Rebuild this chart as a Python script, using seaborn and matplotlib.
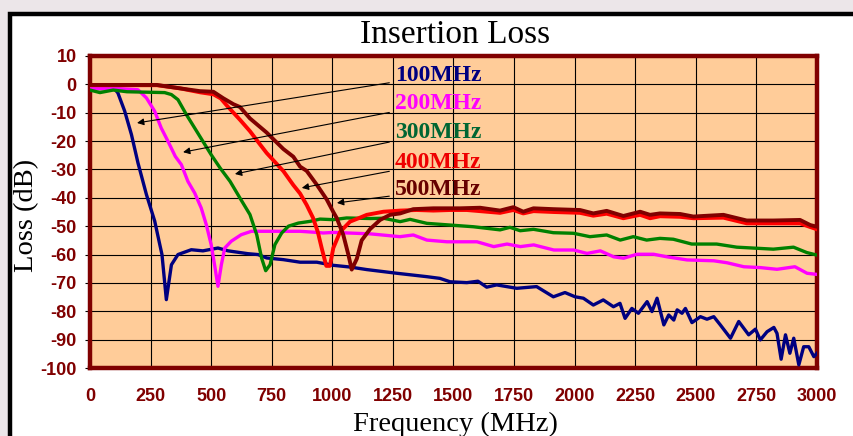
import matplotlib
matplotlib.use("Agg")
import matplotlib.pyplot as plt
import matplotlib.patches as mpatches
import numpy as np
import pandas as pd
import seaborn as sns

plt.rcParams["axes.unicode_minus"] = False

# --- data (frequency MHz, loss dB) ---
f_100 = [0, 50, 100, 115, 143, 171, 198, 233, 267, 288, 297, 315, 336, 363, 418, 466, 528, 570,
         652, 693, 729, 798, 867, 936, 1004, 1073, 1142, 1266, 1390, 1444, 1486, 1555, 1601, 1637,
         1678, 1761, 1843, 1912, 1960, 2002, 2036, 2077, 2118, 2160, 2187, 2208, 2236, 2263, 2299,
         2319, 2340, 2368, 2388, 2409, 2423, 2443, 2457, 2484, 2519, 2546, 2574, 2601, 2643, 2677,
         2718, 2746, 2766, 2794, 2822, 2835, 2852, 2870, 2888, 2904, 2925, 2945, 2966, 2987, 3000]
loss_100 = [-1.5, -1.5, -1.5, -3, -9.4, -17.7, -27.7, -38.9, -48.2, -56.5, -60, -75.9, -63.6, -60,
            -58.3, -58.7, -57.7, -58.7, -59.7, -60, -61.2, -61.8, -62.7, -62.7, -63.8, -64.4, -65.3,
            -66.6, -67.8, -68.4, -69.6, -69.9, -69.4, -71.5, -70.7, -71.9, -71.3, -74.9, -73.4, -74.9,
            -75.4, -77.8, -76, -78.4, -77.2, -82.5, -79, -80.7, -76.6, -80.1, -75.4, -84.8, -81.3,
            -83.1, -79.5, -80.7, -79, -84, -81.9, -82.8, -81.9, -84.8, -89.5, -83.6, -88.3, -86.3,
            -90.1, -87.2, -85.7, -87.8, -96.9, -88.3, -94.8, -89.5, -98.9, -92.5, -92.5, -96, -94.8]

f_200 = [0, 100, 198, 233, 267, 294, 322, 352, 377, 404, 432, 459, 480, 500, 514, 528, 542, 556,
         583, 624, 666, 693, 867, 936, 962, 1004, 1156, 1279, 1334, 1390, 1473, 1597, 1666, 1721,
         1776, 1831, 1914, 1996, 2051, 2106, 2161, 2202, 2257, 2326, 2381, 2464, 2574, 2629, 2698,
         2766, 2835, 2909, 2959, 3000]
loss_200 = [-1.4, -1.4, -1.9, -4.8, -9.5, -15.4, -20.1, -25.4, -28.3, -34.2, -38.3, -43.6, -49.5,
            -56.5, -63.6, -71.2, -63.6, -57.7, -55.3, -53, -51.8, -51.8, -51.8, -52.2, -52.4, -52.2,
            -52.7, -53.7, -53.1, -54.9, -55.5, -55.5, -57.2, -56.3, -57.2, -56.6, -58.4, -58.4,
            -59.6, -58.7, -60.8, -61.3, -59.9, -59.9, -60.8, -61.9, -62.2, -62.9, -64.3, -64.6,
            -65.2, -64.3, -66.6, -67]

f_300 = [0, 41, 96, 152, 308, 336, 363, 398, 432, 466, 500, 537, 578, 619, 660, 688, 708, 725, 743,
         763, 791, 819, 860, 908, 949, 1004, 1059, 1156, 1211, 1280, 1321, 1390, 1486, 1582, 1692,
         1733, 1775, 1830, 1912, 1995, 2063, 2132, 2188, 2242, 2297, 2352, 2407, 2483, 2586, 2669,
         2820, 2903, 2958, 3000]
loss_300 = [-2, -2.9, -2, -2.6, -2.9, -3.6, -5.4, -10.7, -15.4, -20.1, -24.8, -29.5, -34.2, -40.1,
            -45.9, -53, -61.2, -65.7, -63.6, -56.5, -52.4, -50, -48.9, -48.3, -47.5, -47.7, -47.1,
            -47.3, -47.2, -48.4, -47.6, -49, -49.6, -50.2, -51.3, -50.4, -51.6, -51.1, -52.3, -52.5,
            -53.7, -53.1, -54.9, -53.7, -54.9, -54.3, -54.6, -56.3, -56.3, -57.4, -58.1, -57.4,
            -59.3, -60.2]

f_400 = [0, 276, 371, 454, 509, 540, 565, 592, 619, 660, 700, 729, 770, 798, 839, 867, 894, 920,
         940, 956, 975, 990, 1004, 1032, 1073, 1114, 1142, 1211, 1280, 1348, 1417, 1486, 1555, 1637,
         1692, 1747, 1788, 1830, 1912, 2022, 2077, 2132, 2201, 2270, 2311, 2352, 2435, 2490, 2614,
         2710, 2820, 2930, 2972, 3000]
loss_400 = [-0.3, -0.3, -1.4, -2.8, -3.5, -5, -7.5, -10, -12.5, -16.5, -21, -24.2, -28, -30.6,
            -35.5, -38.5, -42.5, -47, -52, -57.7, -64, -64, -57.7, -52, -48.4, -47, -46, -44.9,
            -44.5, -44.3, -44.5, -44.3, -44.3, -44.9, -45.3, -44.3, -45.5, -44.7, -45, -45.3, -46.3,
            -45.6, -47.2, -46, -47.2, -46.5, -46.7, -47.2, -47, -49, -49, -49, -50.3, -51.1]

f_500 = [0, 276, 371, 454, 509, 550, 592, 619, 660, 729, 798, 839, 867, 894, 936, 977, 1004, 1018,
         1045, 1066, 1080, 1101, 1121, 1156, 1197, 1238, 1280, 1334, 1417, 1527, 1610, 1692, 1747,
         1788, 1830, 1912, 2022, 2077, 2132, 2201, 2270, 2311, 2352, 2435, 2490, 2614, 2710, 2820,
         2930, 2972, 3000]
loss_500 = [-0.2, -0.2, -1.4, -2.4, -2.6, -4.9, -7, -8, -12, -17, -22.8, -25.5, -29, -30.5, -35.4,
            -40.6, -45, -47.1, -53, -60, -65.3, -61.5, -55, -51, -47.8, -46, -45.5, -44, -43.7,
            -43.7, -43.5, -44.5, -43.3, -44.9, -43.7, -44, -44.3, -45.5, -44.6, -46.4, -44.9, -46,
            -45.5, -45.7, -46.6, -46, -48, -48, -47.8, -49.6, -50.2]

labels = ["100MHz", "200MHz", "300MHz", "400MHz", "500MHz"]
line_colors = ["#000080", "#FF00FF", "#008000", "#FF0000", "#800000"]
text_colors = ["#000080", "#FF00FF", "#006633", "#EE0000", "#660000"]
# annotation text anchors and arrow tips (data coords)
text_y = [3.3, -6.6, -16.8, -27.4, -37.2]
tip_x = [194, 384, 598, 874, 1019]
tip_y = [-13.6, -23.9, -31.6, -36.5, -41.8]

series = [(f_100, loss_100), (f_200, loss_200), (f_300, loss_300),
          (f_400, loss_400), (f_500, loss_500)]

fig = plt.figure(figsize=(8.54, 4.36), dpi=100, facecolor="#ECE6E9")
frame = mpatches.Rectangle((10.5 / 854, -0.1), 1.05, 1.1 - 14.5 / 436,
                           transform=fig.transFigure, facecolor="white",
                           edgecolor="black", lw=3.2, zorder=-10)
fig.patches.append(frame)

ax = fig.add_axes([90 / 854, 1 - 368 / 436, 727 / 854, 312 / 436])
ax.set_facecolor("#FFCC99")

for (fx, ly), lab, col in zip(series, labels, line_colors):
    df = pd.DataFrame({"freq": fx, "loss": ly})
    lw = 2.8 if lab in ("400MHz", "500MHz") else 2.4
    sns.lineplot(data=df, x="freq", y="loss", ax=ax, color=col, lw=lw,
                 estimator=None, sort=False, zorder=3)

ax.set_xlim(0, 3000)
ax.set_ylim(-100, 10)
ax.set_xticks(range(0, 3001, 250))
ax.set_yticks(range(-100, 11, 10))
ax.grid(True, color="black", lw=0.8)
ax.set_axisbelow(True)
for s in ax.spines.values():
    s.set_color("#800000")
    s.set_linewidth(3.2)

tick_font = dict(family="Liberation Sans", weight="bold", size=13)
ax.tick_params(axis="x", length=0, pad=14.5, colors="#800000")
ax.tick_params(axis="y", length=3.5, width=0.8, color="black", pad=6, labelcolor="#800000")
for t in ax.get_xticklabels() + ax.get_yticklabels():
    t.set_fontproperties(tick_font)
    t.set_color("#800000")

ax.set_xlabel("")
ax.set_ylabel("")

for lab, tc, ty, tx, tyy in zip(labels, text_colors, text_y, tip_x, tip_y):
    ax.annotate(lab, xy=(tx, tyy), xytext=(1258, ty), textcoords="data",
                ha="left", va="center", color=tc, fontsize=17, fontweight="bold",
                family="Liberation Serif", zorder=5,
                arrowprops=dict(arrowstyle="-|>", color="black", lw=0.8,
                                mutation_scale=10, shrinkA=2, shrinkB=0))

fig.text(455 / 854, 1 - 43 / 436, "Insertion Loss", ha="center", va="baseline",
         fontsize=24, family="Liberation Serif", color="black")
fig.text(455 / 854, 1 - 431 / 436, "Frequency (MHz)", ha="center", va="baseline",
         fontsize=20.5, family="Liberation Serif", color="black")
fig.text(27 / 854, 1 - 215 / 436, "Loss (dB)", ha="center", va="center", rotation=90,
         fontsize=20.5, family="Liberation Serif", color="black")

fig.savefig("out.png", dpi=100, facecolor=fig.get_facecolor())
